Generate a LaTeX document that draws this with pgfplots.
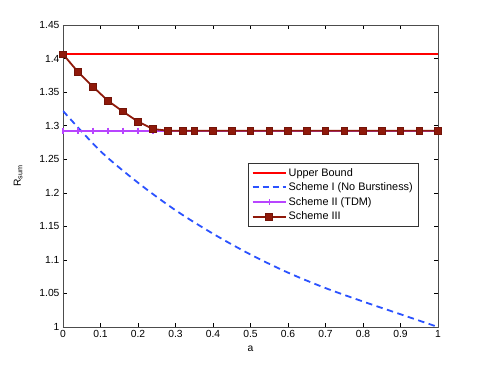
\documentclass[border=0pt]{standalone}
\usepackage{pgfplots}
\pgfplotsset{compat=1.18}
\usepackage{fontspec}
\setmainfont{Liberation Sans}
\definecolor{ubred}{rgb}{1,0,0}
\definecolor{s1blue}{rgb}{0.17,0.32,1}
\definecolor{s2vio}{rgb}{0.72,0.27,1}
\definecolor{s3red}{rgb}{0.56,0.10,0.04}
\definecolor{s3edge}{rgb}{0.45,0.08,0.03}
\begin{document}
\begin{tikzpicture}
\useasboundingbox (-63pt,-41pt) rectangle (422pt,327pt);
\begin{axis}[
  scale only axis,
  width=375pt, height=302pt,
  at={(0pt,0pt)}, anchor=south west,
  xmin=0, xmax=1, ymin=1, ymax=1.45,
  xtick={0,0.1,...,1.01},
  ytick={1,1.05,...,1.46},
  tick pos=both, tick align=inside,
  major tick length=4pt,
  every tick/.style={black, line width=0.4pt},
  axis line style={black!70, line width=0.6pt},
  /pgf/number format/assume math mode=true,
  ticklabel style={font=\fontsize{10.3}{12}\selectfont},
  yticklabel style={/pgf/number format/.cd, fixed, precision=2},
  xticklabel style={/pgf/number format/.cd, fixed, precision=1},
  xlabel={a},
  ylabel={R\textsubscript{sum}},
  xlabel style={at={(axis description cs:0.5,-0.073)}, anchor=center, font=\fontsize{10.3}{12}\selectfont},
  ylabel style={at={(axis description cs:-0.12,0.5)}, anchor=center, font=\fontsize{10.3}{12}\selectfont},
  legend style={at={(axis cs:0.9467,1.1505)}, anchor=south east, draw=black!80,
    font=\fontsize{10.9}{12.5}\selectfont, row sep=1.2pt, inner xsep=3pt, inner ysep=2.5pt,
    /tikz/every even column/.append style={column sep=1pt}},
  legend cell align=left,
]
\addlegendimage{legend image code/.code={\draw[draw=ubred, line width=1.8pt] (0pt,0pt) -- (33pt,0pt);}}
\addlegendimage{legend image code/.code={\draw[draw=s1blue, line width=2pt, dash pattern=on 6pt off 4pt] (0pt,0.5pt) -- (33pt,0.5pt);}}
\addlegendimage{legend image code/.code={\draw[draw=s2vio, line width=1.8pt, mark=|, mark size=3pt, mark repeat=2, mark phase=2, mark options={draw=s2vio, line width=1.2pt}] plot coordinates {(0pt,0pt) (16.5pt,0pt) (33pt,0pt)};}}
\addlegendimage{legend image code/.code={\draw[draw=s3red, line width=1.8pt, mark=square*, mark size=3.3pt, mark repeat=2, mark phase=2, mark options={draw=s3edge, fill=s3red, line width=0.8pt}] plot coordinates {(0pt,0pt) (16.5pt,0pt) (33pt,0pt)};}}
\legend{Upper Bound, Scheme I (No Burstiness), Scheme II (TDM), Scheme III}
\addplot[ubred, line width=1.8pt, forget plot] coordinates {(0,1.4065) (1,1.4065)};
\addplot[s1blue, line width=1.8pt, dash pattern=on 6.5pt off 4.5pt, smooth, forget plot] coordinates {
(0,1.322) (0.1,1.262) (0.2,1.215) (0.3,1.174) (0.4,1.139) (0.5,1.108)
(0.6,1.081) (0.7,1.058) (0.8,1.038) (0.9,1.019) (1.0,1.000)};
\addplot[s2vio, line width=1.8pt, mark=|, mark size=3pt, mark options={line width=1.2pt}, forget plot] coordinates {
(0,1.2925) (0.04,1.2925) (0.08,1.2925) (0.12,1.2925) (0.16,1.2925) (0.20,1.2925) (0.24,1.2925)
(0.28,1.2925) (0.32,1.2925) (0.35,1.2925) (0.4,1.2925) (0.45,1.2925) (0.5,1.2925) (0.55,1.2925)
(0.6,1.2925) (0.65,1.2925) (0.7,1.2925) (0.75,1.2925) (0.8,1.2925) (0.85,1.2925) (0.9,1.2925)
(0.95,1.2925) (1,1.2925)};
\addplot[s3red, line width=1.8pt, mark=square*, mark size=3.3pt, mark options={line width=0.8pt, draw=s3edge, fill=s3red}, forget plot] coordinates {
(0,1.4065) (0.04,1.380) (0.08,1.358) (0.12,1.337) (0.16,1.321) (0.20,1.306) (0.24,1.295)
(0.28,1.2925) (0.32,1.2925) (0.35,1.2925) (0.4,1.2925) (0.45,1.2925) (0.5,1.2925) (0.55,1.2925)
(0.6,1.2925) (0.65,1.2925) (0.7,1.2925) (0.75,1.2925) (0.8,1.2925) (0.85,1.2925) (0.9,1.2925)
(0.95,1.2925) (1,1.2925)};
\end{axis}
\end{tikzpicture}
\end{document}
